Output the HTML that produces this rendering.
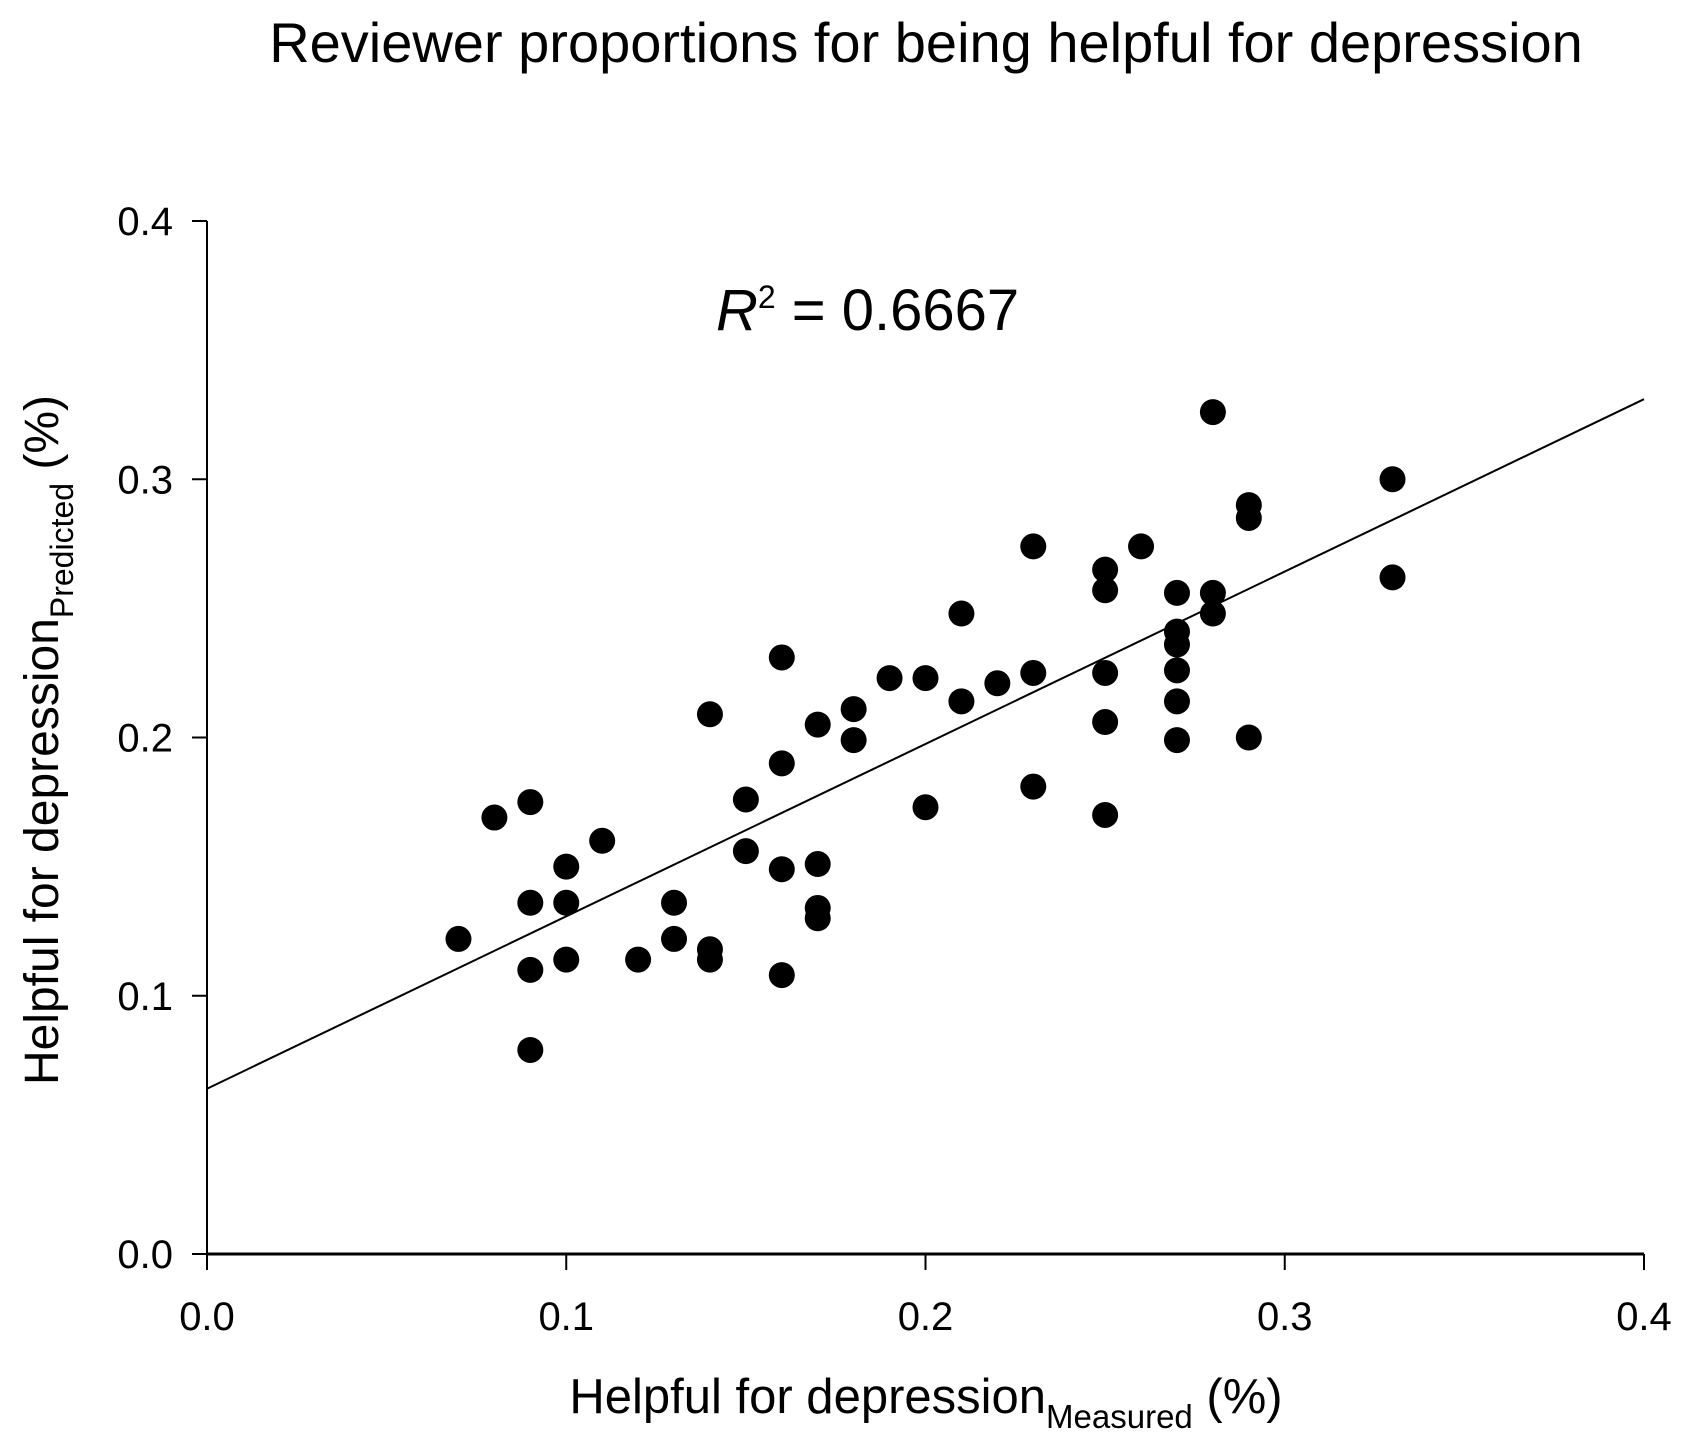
<!DOCTYPE html>
<html><head><meta charset="utf-8"><style>body{margin:0;background:#fff}svg{display:block}text{font-family:"Liberation Sans",sans-serif;fill:#000}</style></head>
<body>
<svg id="chart" width="1688" height="1448">
<text x="926" y="62" font-size="56" text-anchor="middle">Reviewer proportions for being helpful for depression</text>
<text x="716" y="330" font-size="58"><tspan font-style="italic">R</tspan><tspan font-size="32" dy="-22">2</tspan><tspan dy="22"> = 0.6667</tspan></text>
<text x="926" y="1413" font-size="49" text-anchor="middle">Helpful for depression<tspan font-size="33" dy="15">Measured</tspan><tspan dy="-15"> (%)</tspan></text>
<text transform="translate(58,740) rotate(-90)" font-size="48" text-anchor="middle">Helpful for depression<tspan font-size="32" dy="15">Predicted</tspan><tspan dy="-15"> (%)</tspan></text>
<g id="axes"></g><g id="marks"></g>
</svg>
<script>
const xs=[0.07,0.08,0.09,0.09,0.09,0.09,0.10,0.10,0.10,0.11,0.12,0.13,0.13,0.14,0.14,0.14,0.15,0.15,0.16,0.16,0.16,0.16,0.17,0.17,0.17,0.17,0.18,0.18,0.19,0.20,0.20,0.21,0.21,0.22,0.23,0.23,0.23,0.25,0.25,0.25,0.25,0.25,0.26,0.27,0.27,0.27,0.27,0.27,0.27,0.28,0.28,0.28,0.29,0.29,0.29,0.33,0.33];
const ys=[0.122,0.169,0.175,0.136,0.110,0.079,0.150,0.136,0.114,0.160,0.114,0.136,0.122,0.209,0.118,0.114,0.176,0.156,0.231,0.190,0.149,0.108,0.205,0.151,0.134,0.130,0.211,0.199,0.223,0.223,0.173,0.248,0.214,0.221,0.274,0.225,0.181,0.265,0.257,0.225,0.206,0.170,0.274,0.256,0.241,0.236,0.226,0.214,0.199,0.326,0.256,0.248,0.290,0.285,0.200,0.300,0.262];
const fitLine=[0.064,0.331];
const xTicks=["0.0","0.1","0.2","0.3","0.4"];
const yTicks=["0.0","0.1","0.2","0.3","0.4"];
const X=v=>207+v/0.4*(1644-207), Y=v=>1254-v/0.4*(1254-221);
const NS="http://www.w3.org/2000/svg";
function mk(t,a,p){const e=document.createElementNS(NS,t);for(const k in a)e.setAttribute(k,a[k]);p.appendChild(e);return e;}
const ax=document.getElementById('axes'),mg=document.getElementById('marks');
let e=mk('line',{x1:207,y1:Y(0),x2:1644,y2:Y(0),stroke:'#000','stroke-width':3},ax);


e=mk('line',{x1:207,y1:Y(0)+2,x2:207,y2:Y(0.4),stroke:'#000','stroke-width':2},ax);


xTicks.forEach(t=>{const v=+t;mk('line',{x1:X(v),y1:Y(0),x2:X(v),y2:Y(0)+16,stroke:'#000','stroke-width':2},ax);
const tx=mk('text',{x:X(v),y:1330,'font-size':40,'text-anchor':'middle'},ax);tx.textContent=t;

});
yTicks.forEach(t=>{const v=+t;mk('line',{x1:207,y1:Y(v),x2:192,y2:Y(v),stroke:'#000','stroke-width':2},ax);
const tx=mk('text',{x:173,y:Y(v)+14,'font-size':40,'text-anchor':'end'},ax);tx.textContent=t;

});
e=mk('line',{x1:X(0),y1:Y(fitLine[0]),x2:X(0.4),y2:Y(fitLine[1]),stroke:'#000','stroke-width':2},mg);


xs.forEach((x,i)=>{const c=mk('circle',{cx:X(x),cy:Y(ys[i]),r:13,fill:'#000'},mg);

});
</script>
</body></html>
